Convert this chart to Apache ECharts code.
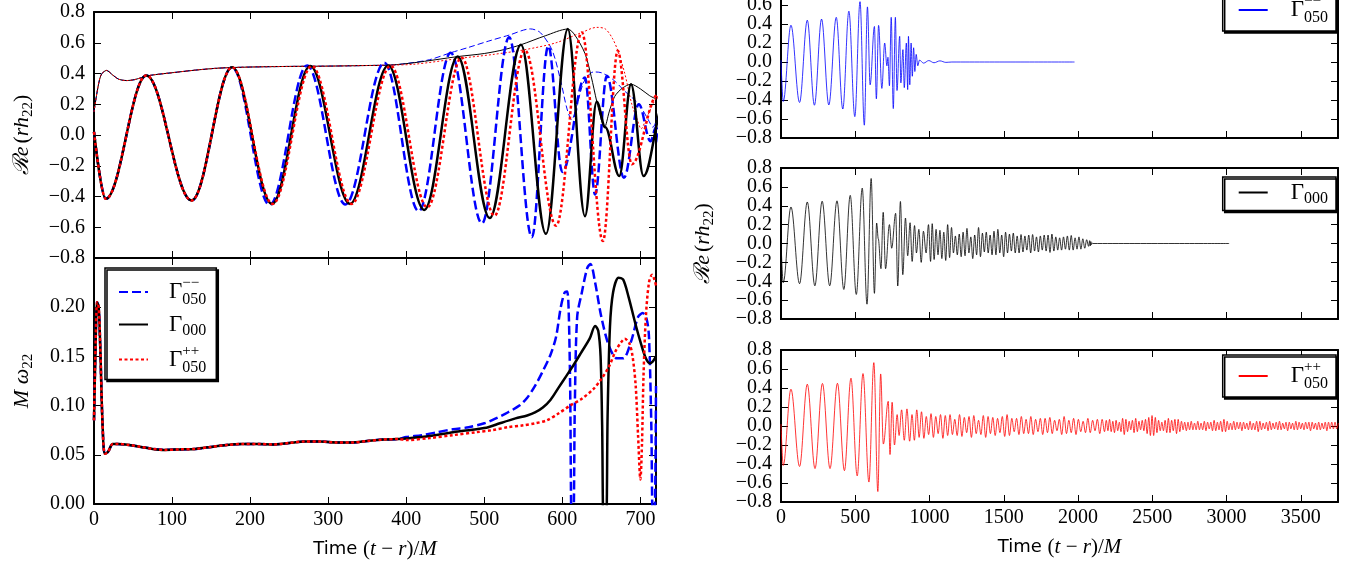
<!DOCTYPE html>
<html>
<head>
<meta charset="utf-8">
<script src="https://cdn.jsdelivr.net/npm/echarts@6/dist/echarts.min.js"></script>
<style>
  html, body { margin: 0; padding: 0; background: #fff; }
  #chart { width: 1353px; height: 563px; }
</style>
</head>
<body>
<div id="chart"></div>
<script>
// ---- data: [time (t-r)/M, value] ----
// Re(r h22) extrema, shared by the left-top zoom and the right long-time panels
const blueRe = [[0,0.02],[15,-0.415],[67,0.387],[125,-0.426],[177,0.44],[225,-0.455],[273,0.452],[322,-0.452],
  [372,0.47],[416,-0.495],[457,0.535],[497,-0.575],[532,0.635],[561,-0.665],[582,0.58],[600,-0.24],[629,0.374],
  [642,-0.387],[657,0.385],[679,-0.278],[698,0.2],[713,-0.04],[720,0.05],[730,-0.25],[742,0.47],[756,-0.49],
  [770,0.47],[781,-0.3],[799,0.27],[807,-0.22],[821,0.13],[830,-0.27],[844,0.2],[853,-0.29],[858,0.27],
  [867,-0.24],[876,0.2],[884,-0.15],[893,0.15],[901,-0.1],[910,0.08],[921,-0.04],[932,0.02],[960,-0.012],
  [995,0.015],[1030,-0.008],[1070,0.012],[1110,-0.004],[1150,0],[1976,0]];

const blackRe = [[0,0.02],[15,-0.415],[67,0.387],[125,-0.426],[177,0.44],[228,-0.448],[277,0.448],[328,-0.448],
  [377,0.452],[423,-0.487],[466,0.51],[507,-0.54],[547,0.587],[579,-0.643],[607,0.689],[629,-0.528],[644,0.217],
  [655,0.05],[673,-0.267],[688,0.33],[704,-0.267],[730,0.2],[745,-0.05],[772,0.32],[786,-0.45],[804,0.445],
  [820,-0.33],[838,0.27],[853,-0.13],[869,0.22],[883,-0.19],[899,0.19],[912,-0.1],[928,0.15],[944,-0.2],
  [959,0.13],[977,-0.1],[993,0.2],[1007,-0.19],[1018,0.21]];
// ringdown extrema of the black run, one every blackTailStep M
const blackTailStart = 1031, blackTailStep = 13;
const blackTail = [-0.17,0.15,-0.12,0.14,-0.16,0.12,-0.18,0.2,-0.15,0.17,-0.1,0.08,-0.12,0.1,-0.14,0.12,-0.13,0.16,
  -0.1,0.07,-0.16,0.09,-0.12,0.17,-0.14,0.11,-0.09,0.12,-0.1,0.09,-0.12,0.13,-0.12,0.15,-0.1,0.09,-0.14,0.12,-0.1,
  0.1,-0.08,0.11,-0.1,0.08,-0.1,0.095,-0.09,0.08,-0.07,0.09,-0.1,0.095,-0.08,0.07,-0.09,0.08,-0.07,0.09,-0.08,0.09,
  -0.095,0.1,-0.08,0.07,-0.07,0.06,-0.07,0.07,-0.06,0.08,-0.07,0.085,-0.07,0.06,-0.06,0.07,-0.06,0.05,-0.05,0.04,-0.03];
const blackEnd = [[2078,0.03],[2082,-0.025],[2086,0.02],[2090,-0.012],[2095,0.005],[2100,0],[3017,0]];

const redRe = [[0,0.02],[15,-0.415],[67,0.387],[125,-0.426],[177,0.44],[229,-0.448],[279,0.448],[330,-0.448],
  [380,0.45],[427,-0.47],[471,0.503],[513,-0.525],[552,0.552],[592,-0.59],[625,0.667],[652,-0.69],[671,0.548],
  [689,-0.19],[722,0.26],[734,-0.3],[748,0.25],[764,-0.2],[782,0.12],[795,-0.1],[812,0.17],[830,-0.15],[848,0.18]];
const redTailAStart = 866, redTailAStep = 16;
const redTailA = [-0.16,0.12,-0.15,0.17,-0.12,0.15,-0.13,0.1,-0.09,0.13,
  -0.12,0.1,-0.08,0.12,-0.13,0.11,-0.1,0.12,-0.09,0.07,
  -0.1,0.12,-0.11,0.09,-0.07,0.1,-0.12,0.11,-0.08,0.06,
  -0.09,0.11,-0.12,0.1,-0.08,0.09,-0.1,0.08,-0.07,0.1,
  -0.11,0.12,-0.1,0.08,-0.06,0.08,-0.09,0.1,-0.08,0.07,
  -0.08,0.1,-0.09,0.07,-0.06,0.08,-0.09,0.08,-0.07,0.09,
  -0.08,0.06,-0.05,0.07,-0.09,0.1,-0.08,0.06,-0.07,0.08,
  -0.09,0.07,-0.06,0.05,-0.07,0.08,-0.07,0.06,-0.05,0.07,
  -0.08,0.07,-0.06];
const redTailBStart = 2190, redTailBStep = 11;
const redTailB = [0.06,-0.05,0.07,-0.06,0.05,-0.07,0.06,-0.05,0.04,-0.06,
  0.08,-0.09,0.07,-0.06,0.05,-0.04,0.06,-0.07,0.08,-0.06,
  0.05,-0.04,0.06,-0.05,0.07,-0.08,0.09,-0.1,0.11,-0.1,
  0.09,-0.07,0.06,-0.05,0.04,-0.05,0.06,-0.07,0.08,-0.07,
  0.06,-0.05,0.07,-0.08,0.07,-0.06,0.05,-0.04,0.04,-0.05,
  0.04,-0.04,0.05,-0.04,0.03,-0.04,0.05,-0.04,0.03,-0.04,
  0.05,-0.05,0.04,-0.03,0.04,-0.05,0.06,-0.05,0.04,-0.04,
  0.05,-0.06,0.07,-0.06,0.05,-0.04,0.03,-0.04,0.05,-0.04,
  0.04,-0.03,0.04,-0.05,0.04,-0.03,0.03,-0.04,0.05,-0.04,
  0.03,-0.04,0.05,-0.06,0.05,-0.04,0.03,-0.03,0.04,-0.05,
  0.05,-0.04,0.03,-0.03,0.04,-0.04,0.05,-0.04,0.03,-0.03,
  0.04,-0.05,0.04,-0.03,0.03,-0.04,0.05,-0.04,0.04,-0.03,
  0.03,-0.04,0.04,-0.03,0.04,-0.05,0.04,-0.03,0.03,-0.04,
  0.04,-0.04,0.03,-0.03,0.04,-0.05,0.04,-0.03,0.04,-0.03,
  0.04,-0.03,0.03];

// |r h22| envelopes (thin lines, left-top panel)
const ampEarly = [[0,0.15],[4,0.28],[9,0.39],[16,0.42],[24,0.39],[32,0.362],[42,0.354],[52,0.36],[62,0.375],
  [72,0.388],[100,0.405],[130,0.422],[160,0.435],[200,0.442],[250,0.446],[300,0.448],[350,0.452],[380,0.455]];
const blueAmpLate = [[400,0.465],[430,0.49],[457,0.535],[480,0.57],[505,0.61],[532,0.65],[559,0.69],[572,0.665],
  [587,0.55],[598,0.35],[606,0.17],[612,0.1],[619,0.2],[628,0.35],[640,0.41],[650,0.405],[665,0.36],[680,0.285],
  [698,0.2],[710,0.1],[716,0.05],[722,0.12]];
const blackAmpLate = [[410,0.47],[466,0.51],[500,0.53],[525,0.555],[547,0.587],[578,0.645],[607,0.689],[616,0.65],
  [629,0.53],[637,0.38],[644,0.22],[650,0.1],[654,0.05],[660,0.15],[667,0.25],[677,0.305],[688,0.33],[700,0.3],
  [712,0.255],[722,0.23]];
const redAmpLate = [[410,0.46],[471,0.5],[513,0.525],[552,0.555],[592,0.6],[625,0.667],[644,0.7],[655,0.69],
  [664,0.63],[671,0.55],[680,0.4],[689,0.2],[696,0.1],[701,0.04],[707,0.1],[714,0.18],[722,0.26]];

// M omega22
const omegaEarly = [[0,0.085],[2,0.16],[4,0.205],[6,0.2],[8,0.16],[11,0.08],[14,0.051],[18,0.053],[24,0.061],
  [30,0.061],[45,0.06],[60,0.058],[75,0.056],[90,0.055],[110,0.0555],[130,0.056],[150,0.058],[170,0.06],
  [190,0.061],[210,0.061],[230,0.0605],[250,0.062],[270,0.0635],[290,0.0635],[310,0.0625],[330,0.0625],
  [350,0.064],[370,0.0655],[390,0.066]];
const blueOmegaLate = [[400,0.068],[420,0.07],[440,0.073],[460,0.076],[480,0.078],[500,0.082],[515,0.087],
  [530,0.093],[545,0.1],[555,0.108],[565,0.12],[575,0.135],[585,0.152],[592,0.17],[598,0.2],[603,0.215],
  [606,0.216],[608,0.2],[610,0.12],[612,-0.02],[614,-0.02],[616,0.1],[619,0.19],[625,0.215],[632,0.24],
  [636,0.244],[642,0.225],[650,0.19],[660,0.16],[670,0.148],[678,0.148],[688,0.165],[697,0.19],[703,0.194],
  [708,0.188],[711,0.17],[714,0.08],[716,-0.02],[718,-0.02],[720,0.12]];
const blackOmegaLate = [[400,0.0665],[430,0.069],[460,0.073],[490,0.076],[505,0.078],[520,0.082],[540,0.087],
  [555,0.09],[565,0.093],[575,0.098],[585,0.106],[595,0.118],[605,0.13],[615,0.142],[625,0.155],[635,0.168],
  [642,0.181],[646,0.176],[649,0.15],[651,0.08],[653,-0.02],[656,-0.02],[658,0.09],[661,0.18],[665,0.215],
  [672,0.23],[678,0.228],[685,0.21],[693,0.185],[700,0.165],[707,0.148],[712,0.143],[716,0.145],[720,0.15]];
const redOmegaLate = [[400,0.065],[430,0.067],[460,0.07],[490,0.073],[510,0.075],[530,0.078],[550,0.08],
  [565,0.082],[580,0.085],[595,0.092],[610,0.1],[625,0.107],[640,0.117],[650,0.127],[660,0.14],[668,0.155],
  [675,0.164],[680,0.168],[686,0.163],[690,0.15],[694,0.12],[697,0.07],[700,0.025],[702,0.06],[704,0.13],
  [707,0.19],[711,0.225],[715,0.233],[718,0.228],[720,0.222]];

const xTicksLeft = [0, 720, 100];
const xTicksRight = [0, 3750, 500];
const reTicks = [-0.8, 0.8, 0.2];
const omegaTicks = [0, 0.25, 0.05];

// ---- build ----
const SERIF = 'Liberation Serif';
const SANS = 'DejaVu Sans';
const BLUE = '#0000ff', BLACK = '#000000', RED = '#ff0000';

function tail(start, step, vals) {
  return vals.map(function (v, i) { return [start + i * step, v]; });
}
const blueFull = blueRe;
const blackFull = blackRe.concat(tail(blackTailStart, blackTailStep, blackTail), blackEnd);
const redFull = redRe.concat(tail(redTailAStart, redTailAStep, redTailA), tail(redTailBStart, redTailBStep, redTailB));

const chart = echarts.init(document.getElementById('chart'), null, { renderer: 'canvas' });

const grids = [
  { left: 94, top: 12, width: 562, height: 246 },
  { left: 94, top: 258, width: 562, height: 246 },
  { left: 781, top: -14, width: 557, height: 152 },
  { left: 781, top: 168, width: 557, height: 151 },
  { left: 781, top: 350, width: 557, height: 152 }
].map(function (g) { return Object.assign({ containLabel: false, outerBoundsMode: 'none' }, g); });

const nameRich = {
  i: { fontFamily: SERIF, fontStyle: 'italic', fontSize: 22, lineHeight: 28, color: '#000' },
  u: { fontFamily: SERIF, fontSize: 22, lineHeight: 28, color: '#000' },
  s: { fontFamily: SERIF, fontSize: 15, lineHeight: 22, verticalAlign: 'bottom', color: '#000' },
  t: { fontFamily: SANS, fontSize: 18, lineHeight: 28, color: '#000' },
  ti: { fontFamily: SERIF, fontStyle: 'italic', fontSize: 21, lineHeight: 28, color: '#000' },
  tu: { fontFamily: SERIF, fontSize: 21, lineHeight: 28, color: '#000' }
};
const reName = '{i|ℛe} {u|(}{i|rh}{s|22}{u|)}';
const omegaName = '{i|M ω}{s|22}';
const timeName = '{t|Time }{tu|(}{ti|t}{tu| − }{ti|r}{tu|)/}{ti|M}';

function fmt1(v) {
  const r = Math.round(v * 10) / 10;
  return (r === 0 ? '0.0' : r.toFixed(1)).replace('-', '−');
}
function fmtInner(v) { return Math.abs(v) > 0.75 ? '' : fmt1(v); }
function fmtEnds(v) { return Math.abs(v) > 0.75 ? fmt1(v) : ''; }
function fmt2(v) { return v > 0.24 ? '' : v.toFixed(2); }
function fmtLeftX(v) { return (v % 100 === 0 && v <= 700) ? String(v) : ''; }
function fmtRightX(v) { return (v % 500 === 0 && v <= 3500) ? String(v) : ''; }

const frameLine = { show: true, onZero: false, lineStyle: { color: '#000', width: 2 } };
const inTick = { show: true, inside: true, length: 7, lineStyle: { color: '#000', width: 1 } };
const labelStyle = { fontFamily: SERIF, fontSize: 20, color: '#000' };

const xAxes = [], yAxes = [], yExtra = [];
function addAxes(gi, xt, yt, xFmt, yFmt, xName, yName, yGap, splitEnds) {
  const xb = { type: 'value', gridIndex: gi, min: xt[0], max: xt[1], interval: xt[2],
    axisLine: frameLine, axisTick: inTick, splitLine: { show: false } };
  xAxes.push(Object.assign({}, xb, {
    position: 'bottom',
    axisLabel: xFmt ? Object.assign({ show: true, margin: 6, formatter: xFmt, showMinLabel: true, showMaxLabel: true }, labelStyle) : { show: false },
    name: xName || '', nameLocation: 'middle', nameGap: 31, nameMoveOverlap: false,
    nameTextStyle: { rich: nameRich }
  }));
  xAxes.push(Object.assign({}, xb, { position: 'top', axisLabel: { show: false } }));
  const yb = { type: 'value', gridIndex: gi, min: yt[0], max: yt[1], interval: yt[2],
    axisLine: frameLine, axisTick: inTick, splitLine: { show: false } };
  const mainLabel = splitEnds
    ? Object.assign({ show: true, margin: 9, formatter: fmtInner }, labelStyle)
    : Object.assign({ show: true, margin: 9, formatter: yFmt, showMinLabel: true, showMaxLabel: true }, labelStyle);
  yAxes.push(Object.assign({}, yb, {
    position: 'left', axisLabel: mainLabel,
    name: yName || '', nameLocation: 'middle', nameRotate: 90, nameGap: yGap || 58, nameMoveOverlap: false,
    nameTextStyle: { rich: nameRich }
  }));
  yAxes.push(Object.assign({}, yb, { position: 'right', axisLabel: { show: false } }));
  if (splitEnds) {
    // second left axis carrying only the end labels (-0.8 / 0.8), so both ends and inner labels show
    yExtra.push(Object.assign({}, yb, {
      position: 'left', axisTick: { show: false },
      axisLabel: Object.assign({ show: true, margin: 9, formatter: fmtEnds, showMinLabel: true, showMaxLabel: true }, labelStyle)
    }));
  }
}
addAxes(0, xTicksLeft, reTicks, null, fmt1, '', reName, 58, false);
addAxes(1, xTicksLeft, omegaTicks, fmtLeftX, fmt2, timeName, omegaName, 58, false);
addAxes(2, xTicksRight, reTicks, null, fmt1, '', '', 0, true);
addAxes(3, xTicksRight, reTicks, null, fmt1, '', reName, 64, true);
addAxes(4, xTicksRight, reTicks, fmtRightX, fmt1, timeName, '', 0, true);

function line(name, gi, data, color, width, dash, wave) {
  return {
    name: name, type: 'line', xAxisIndex: 2 * gi, yAxisIndex: 2 * gi, data: data,
    symbol: 'none', showSymbol: false, silent: true, clip: true, animation: false,
    emphasis: { disabled: true },
    smooth: wave ? 0.36 : 0.3, smoothMonotone: wave ? 'x' : null,
    itemStyle: { color: color },
    lineStyle: { color: color, width: width, type: dash || 'solid', cap: 'butt', join: 'round' }
  };
}
const dashBlue = [9, 4], dotRed = [3, 2.5];
const series = [
  // left top: thin envelopes then thick Re
  line('mm_amp', 0, ampEarly.concat(blueAmpLate), BLUE, 1, [6, 3], false),
  line('z_amp', 0, ampEarly.concat(blackAmpLate), BLACK, 1, null, false),
  line('pp_amp', 0, ampEarly.concat(redAmpLate), RED, 1, [2, 2], false),
  line('mm_re', 0, blueFull, BLUE, 2.5, dashBlue, true),
  line('z_re', 0, blackFull, BLACK, 2.5, null, true),
  line('pp_re', 0, redFull, RED, 2.5, dotRed, true),
  // left bottom: frequency
  line('mm', 1, omegaEarly.concat(blueOmegaLate), BLUE, 2.5, dashBlue, false),
  line('z', 1, omegaEarly.concat(blackOmegaLate), BLACK, 2.5, null, false),
  line('pp', 1, omegaEarly.concat(redOmegaLate), RED, 2.5, dotRed, false),
  // right: long waveforms
  line('mm_r', 2, blueFull, BLUE, 0.8, null, true),
  line('z_r', 3, blackFull, BLACK, 0.8, null, true),
  line('pp_r', 4, redFull, RED, 0.8, null, true)
];

const legendText = {
  mm: '{gS|Γ}{up|−−}{dnS|050}', z: '{gN|Γ}{dnN|000}', pp: '{gS|Γ}{up|++}{dnS|050}',
  mm_r: '{gS|Γ}{up|−−}{dnS|050}', z_r: '{gN|Γ}{dnN|000}', pp_r: '{gS|Γ}{up|++}{dnS|050}'
};
function legendRich(pad) {
  return {
    gS: { fontFamily: SERIF, fontSize: 23, lineHeight: 32, padding: [0, 0, 0, pad], color: '#000' },
    gN: { fontFamily: SERIF, fontSize: 23, lineHeight: 28, padding: [0, 0, 0, pad], color: '#000' },
    up: { fontFamily: SERIF, fontSize: 15, lineHeight: 14, width: 0, verticalAlign: 'top', color: '#000' },
    dnS: { fontFamily: SERIF, fontSize: 16, lineHeight: 24, verticalAlign: 'bottom', color: '#000' },
    dnN: { fontFamily: SERIF, fontSize: 16, lineHeight: 20, verticalAlign: 'bottom', color: '#000' }
  };
}
function legend(names, pos, pad, boxPad) {
  return Object.assign({
    data: names, orient: 'vertical', selectedMode: false, itemWidth: 29, itemHeight: 14, itemGap: 5,
    padding: boxPad, backgroundColor: '#fff', borderColor: '#000', borderWidth: 1.5, borderRadius: 0,
    shadowColor: '#000', shadowBlur: 0, shadowOffsetX: 2, shadowOffsetY: 2,
    itemStyle: { opacity: 0, borderWidth: 0 },
    formatter: function (n) { return legendText[n]; },
    textStyle: { rich: legendRich(pad) }
  }, pos);
}

chart.setOption({
  animation: false,
  backgroundColor: '#fff',
  textStyle: { fontFamily: SERIF },
  grid: grids,
  xAxis: xAxes,
  yAxis: yAxes.concat(yExtra),
  legend: [
    legend(['mm', 'z', 'pp'], { left: 105, top: 268 }, 16, [8, 10, 4, 13]),
    legend(['mm_r'], { right: 17, top: -11 }, 18, [5, 8, 5, 15]),
    legend(['z_r'], { right: 17, top: 177 }, 18, [4, 8, 4, 15]),
    legend(['pp_r'], { right: 17, top: 355 }, 18, [5, 8, 5, 15])
  ],
  series: series
});
</script>
</body>
</html>
